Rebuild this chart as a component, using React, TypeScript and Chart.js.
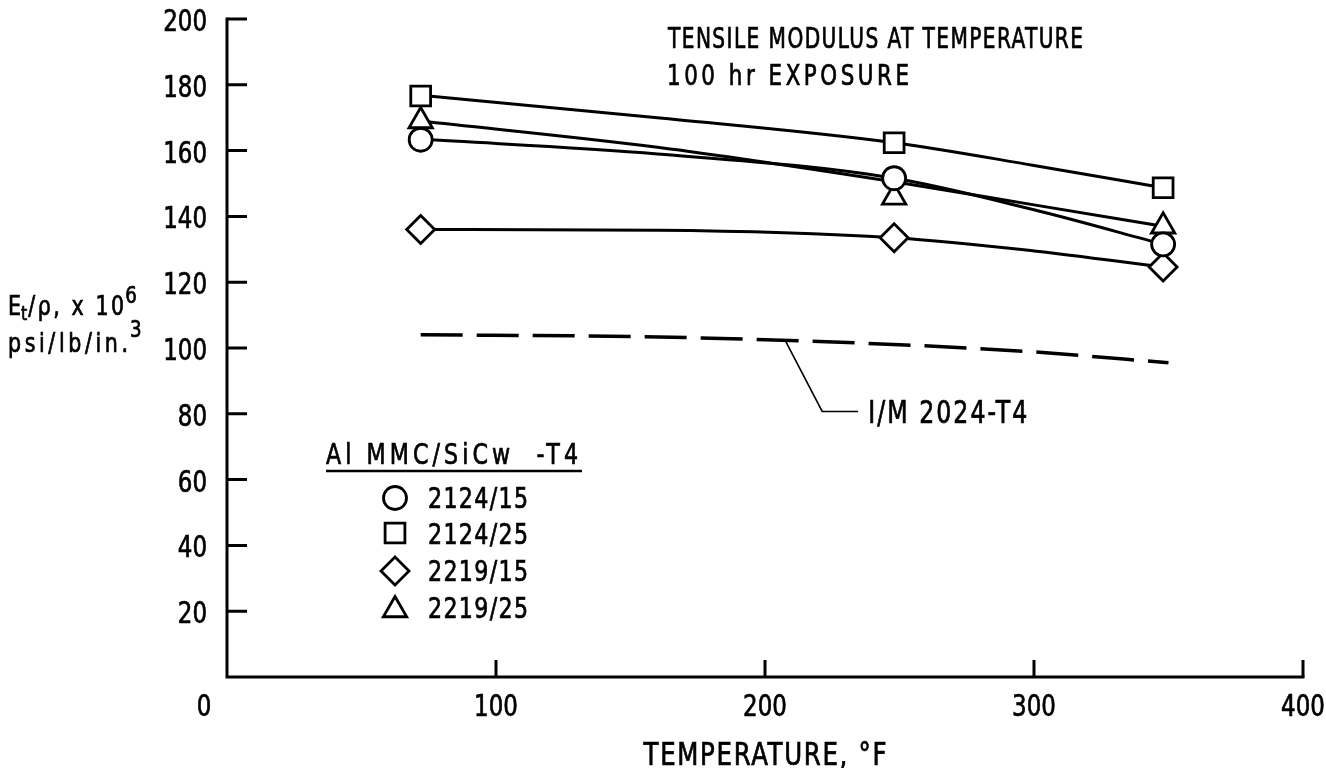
import React, { useEffect, useRef } from 'react';
import { Chart, registerables } from 'chart.js';
import { drawPoint } from 'chart.js/helpers';

Chart.register(...registerables);

// ---- data ----
const TEMPS = [72, 248, 348];
const S2124_15 = [163.3, 151.6, 131.5];
const S2124_25 = [176.6, 162.4, 148.7];
const S2219_15 = [136.0, 133.5, 124.6];
const S2219_25 = [169.0, 145.8, 137.0];

const FIT_T = [72, 160, 248, 300, 348];
const FIT_2124_15 = [163.5, 159, 151.6, 142, 131.5];
const FIT_2124_25 = [176.8, 170, 162.4, 155.5, 148.7];
const FIT_2219_15 = [136, 135.8, 133.5, 129.5, 124.6];
const FIT_2219_25 = [169, 161, 150.5, 143.5, 137];

const IM_T = [72, 150, 200, 250, 300, 350];
const IM_2024 = [104, 103.5, 102.5, 101, 98.8, 95.5];

const X_TICKS = [0, 100, 200, 300, 400];
const X_TICK_LABELS = ['0', '100', '200', '300', '400'];
const Y_TICKS = [20, 40, 60, 80, 100, 120, 140, 160, 180, 200];
const Y_TICK_LABELS = ['20', '40', '60', '80', '100', '120', '140', '160', '180', '200'];

const SERIES_NAMES = ['2124/15', '2124/25', '2219/15', '2219/25'];
const SERIES_STYLES = ['circle', 'rect', 'rectRot', 'triangle'];
const SERIES_RADII = [11.5, 14, 14, 13.5];
const LEGEND_TITLE = 'Al MMC/SiCw  -T4';
const TITLE_LINES = ['TENSILE MODULUS AT TEMPERATURE', '100 hr EXPOSURE'];
const X_TITLE = 'TEMPERATURE, \u00B0F';
const IM_LABEL = 'I/M 2024-T4';

const FONT = "'Liberation Sans Narrow', 'DejaVu Sans Condensed', 'Arial Narrow', 'Liberation Sans', sans-serif";
const SX = 0.85;

const pts = (xs: number[], ys: number[]) => xs.map((v, i) => ({ x: v, y: ys[i] }));

function drawText(
  ctx: CanvasRenderingContext2D,
  text: string,
  x: number,
  y: number,
  size: number,
  opts: { sx?: number; width?: number; align?: 'left' | 'center' | 'right' } = {}
) {
  const c: any = ctx;
  const sx = opts.sx ?? SX;
  ctx.save();
  ctx.font = `${size}px ${FONT}`;
  c.letterSpacing = '0px';
  const w = ctx.measureText(text).width;
  const n = Math.max(1, text.length - 1);
  let ls = 0;
  if (opts.width) ls = (opts.width / sx - w) / n;
  const total = w + ls * n;
  const align = opts.align ?? 'left';
  ctx.translate(x, y);
  ctx.scale(sx, 1);
  c.letterSpacing = `${ls}px`;
  ctx.textAlign = 'left';
  ctx.textBaseline = 'alphabetic';
  const ax = align === 'center' ? -total / 2 : align === 'right' ? -total : 0;
  ctx.fillText(text, ax, 0);
  ctx.lineWidth = 0.7;
  ctx.strokeStyle = '#000';
  ctx.strokeText(text, ax, 0);
  c.letterSpacing = '0px';
  ctx.restore();
  return total * sx;
}

const overlay = {
  id: 'overlay',
  beforeDatasetsDraw(chart: any) {
    const { ctx, scales } = chart;
    const x = scales.x, y = scales.y;
    const x0 = x.getPixelForValue(0);
    const y0 = y.getPixelForValue(0);
    ctx.save();
    ctx.strokeStyle = '#000';
    ctx.lineWidth = 3;
    ctx.lineCap = 'square';
    ctx.beginPath();
    ctx.moveTo(x0, y.getPixelForValue(200));
    ctx.lineTo(x0, y0);
    ctx.lineTo(x.getPixelForValue(400), y0);
    ctx.stroke();
    ctx.lineCap = 'butt';
    ctx.beginPath();
    for (const v of Y_TICKS) {
      const py = y.getPixelForValue(v);
      ctx.moveTo(x0, py);
      ctx.lineTo(x0 + 20, py);
    }
    for (const v of X_TICKS) {
      if (v === 0) continue;
      const px = x.getPixelForValue(v);
      ctx.moveTo(px, y0);
      ctx.lineTo(px, y0 - 17);
    }
    ctx.stroke();
    ctx.restore();
  },
  afterDraw(chart: any) {
    const { ctx, scales } = chart;
    const x = scales.x, y = scales.y;
    const x0 = x.getPixelForValue(0);
    const y0 = y.getPixelForValue(0);
    ctx.save();
    ctx.fillStyle = '#000';
    ctx.strokeStyle = '#000';

    // y tick labels
    Y_TICKS.forEach((v, i) =>
      drawText(ctx, Y_TICK_LABELS[i], x0 - 20, y.getPixelForValue(v) + 12, 30, { align: 'right' })
    );

    // x tick labels
    X_TICKS.forEach((v, i) => {
      const px = v === 0 ? x0 - 23 : x.getPixelForValue(v);
      drawText(ctx, X_TICK_LABELS[i], px, y0 + 39, 30, { align: 'center' });
    });

    // x title
    drawText(ctx, X_TITLE, (x0 + x.getPixelForValue(400)) / 2, y0 + 88, 32, { width: 243, sx: 0.85, align: 'center' });

    // chart title
    drawText(ctx, TITLE_LINES[0], 668, 48, 28, { width: 415, sx: 0.8 });
    drawText(ctx, TITLE_LINES[1], 667, 85, 28, { width: 242, sx: 0.85 });

    // y axis title
    let cx = 8;
    const b1 = 315;
    cx += drawText(ctx, 'E', cx, b1, 26, { sx: 0.88 });
    cx += drawText(ctx, 't', cx, b1 + 5, 20, { sx: 0.88 }) + 1;
    cx += drawText(ctx, '/\u03C1, x 10', cx, b1, 26, { sx: 0.88, width: 96 });
    drawText(ctx, '6', cx + 1, b1 - 12, 23, { sx: 0.88 });
    cx = 8;
    const b2 = 352;
    cx += drawText(ctx, 'psi/lb/in.', cx, b2, 26, { sx: 0.88, width: 120 });
    drawText(ctx, '3', cx + 2, b2 - 15, 23, { sx: 0.88 });

    // I/M leader and label
    const ax = x.getPixelForValue(207.5);
    const ay = y.getPixelForValue(102.3);
    const ex = ax + 37, ey = ay + 71;
    ctx.lineWidth = 1.6;
    ctx.beginPath();
    ctx.moveTo(ax, ay);
    ctx.lineTo(ex, ey);
    ctx.lineTo(ex + 36, ey);
    ctx.stroke();
    drawText(ctx, IM_LABEL, ex + 46, ey + 12, 32, { width: 159, sx: 0.82 });

    // legend
    const lx = 326;
    drawText(ctx, LEGEND_TITLE, lx, 464, 29, { width: 252, sx: 0.85 });
    ctx.lineWidth = 2.5;
    ctx.beginPath();
    ctx.moveTo(lx, 471);
    ctx.lineTo(lx + 256, 471);
    ctx.stroke();
    const rowBase = [508, 544, 581, 618];
    const rowMark = [498, 533, 571, 610];
    SERIES_NAMES.forEach((name, i) => {
      ctx.fillStyle = '#fff';
      ctx.strokeStyle = '#000';
      ctx.lineWidth = 2.8;
      drawPoint(ctx, { pointStyle: SERIES_STYLES[i], radius: SERIES_RADII[i], rotation: 0, borderWidth: 2.8 } as any, lx + 69, rowMark[i]);
      ctx.fillStyle = '#000';
      drawText(ctx, name, lx + 102, rowBase[i], 29, { width: 100, sx: 0.85 });
    });
    ctx.restore();
  },
};

export default function App() {
  const ref = useRef<HTMLCanvasElement | null>(null);
  useEffect(() => {
    if (!ref.current) return;
    const lineDs = (data: number[], dash: number[] = [], width = 3) => ({
      type: 'line' as const,
      data: pts(FIT_T, data),
      borderColor: '#000',
      borderWidth: width,
      borderDash: dash,
      pointRadius: 0,
      showLine: true,
      fill: false,
      cubicInterpolationMode: 'monotone' as const,
    });
    const markerDs = (data: number[], i: number) => ({
      type: 'scatter' as const,
      label: SERIES_NAMES[i],
      data: pts(TEMPS, data),
      showLine: false,
      pointStyle: SERIES_STYLES[i],
      pointRadius: SERIES_RADII[i],
      pointBorderWidth: 2.8,
      pointBackgroundColor: '#fff',
      pointBorderColor: '#000',
    });
    const imDs = {
      type: 'line' as const,
      data: pts(IM_T, IM_2024),
      borderColor: '#000',
      borderWidth: 3.5,
      borderDash: [42, 14],
      pointRadius: 0,
      showLine: true,
      fill: false,
      cubicInterpolationMode: 'monotone' as const,
    };
    const chart = new Chart(ref.current, {
      type: 'scatter',
      data: {
        datasets: [
          markerDs(S2124_15, 0),
          markerDs(S2124_25, 1),
          markerDs(S2219_15, 2),
          markerDs(S2219_25, 3),
          lineDs(FIT_2124_15),
          lineDs(FIT_2124_25),
          lineDs(FIT_2219_15),
          lineDs(FIT_2219_25),
          imDs,
        ] as any,
      },
      options: {
        animation: false,
        responsive: false,
        devicePixelRatio: 1,
        layout: { padding: { left: 227, right: 23, top: 19, bottom: 91 } },
        scales: {
          x: { type: 'linear', min: 0, max: 400, display: false },
          y: { type: 'linear', min: 0, max: 200, display: false },
        },
        plugins: { legend: { display: false }, tooltip: { enabled: false } },
        events: [],
      },
      plugins: [overlay],
    });
    return () => chart.destroy();
  }, []);
  return (
    <div style={{ position: 'fixed', left: 0, top: 0, width: 1326, height: 768, background: '#fff' }}>
      <canvas ref={ref} width={1326} height={768} />
    </div>
  );
}
